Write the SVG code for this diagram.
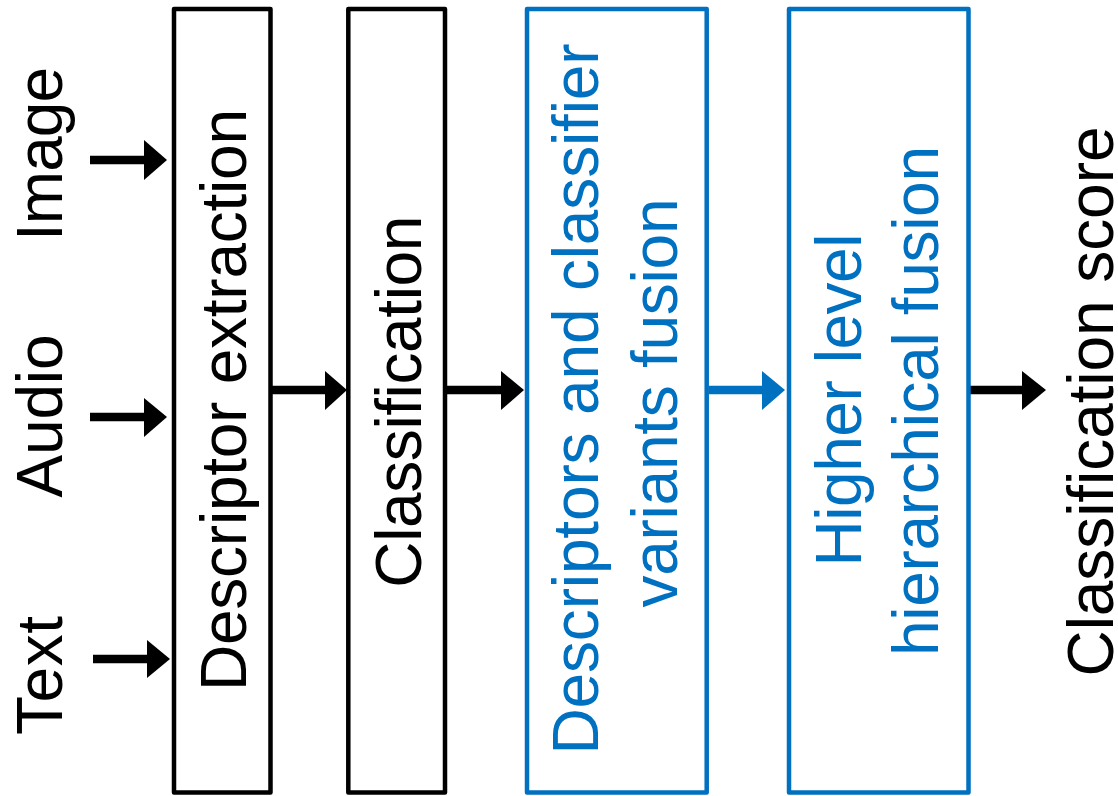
<svg xmlns="http://www.w3.org/2000/svg" width="1118" height="796" viewBox="0 0 1118 796">
<style>
.box{fill:#fff;stroke-width:4.5;stroke-linejoin:round}
.k{stroke:#000}
.b{stroke:#0070C0}
.t{font-family:"Liberation Sans",Arial,sans-serif;font-size:64px;text-anchor:middle}
.tk{fill:#000}
.tb{fill:#0070C0}
.shaft{stroke-width:8.5;fill:none}
</style>
<rect width="1118" height="796" fill="#fff"/>
<g id="connectors">
<line class="shaft k" x1="90" y1="160" x2="146" y2="160"/>
<polygon points="144,140 167,160 144,180" fill="#000"/>
<line class="shaft k" x1="90" y1="417" x2="146" y2="417"/>
<polygon points="144,398 167,417 144,437" fill="#000"/>
<line class="shaft k" x1="93" y1="659" x2="149" y2="659"/>
<polygon points="147,640 170,659 147,678" fill="#000"/>
<line class="shaft k" x1="272" y1="390" x2="327" y2="390"/>
<polygon points="325,371 347,390 325,410" fill="#000"/>
<line class="shaft k" x1="447" y1="390" x2="503" y2="390"/>
<polygon points="501,371 524,390 501,410" fill="#000"/>
<line class="shaft b" x1="709" y1="390" x2="764" y2="390"/>
<polygon points="762,371 785,390 762,410" fill="#0070C0"/>
<line class="shaft k" x1="970" y1="390" x2="1024" y2="390"/>
<polygon points="1022,371 1046,390 1022,410" fill="#000"/>
</g>
<g id="input-image"><text class="t tk" transform="translate(62,154) rotate(-90)" textLength="174">Image</text></g>
<g id="input-audio"><text class="t tk" transform="translate(62,416) rotate(-90)" textLength="163">Audio</text></g>
<g id="input-text"><text class="t tk" transform="translate(62,675.5) rotate(-90)" textLength="119">Text</text></g>
<g id="descriptor-extraction">
<rect class="box k" x="174" y="9" width="96.5" height="783.5"/>
<text class="t tk" transform="translate(246,400) rotate(-90)" textLength="582">Descriptor extraction</text>
</g>
<g id="classification">
<rect class="box k" x="348.3" y="9" width="96.7" height="783.5"/>
<text class="t tk" transform="translate(421,401.7) rotate(-90)" textLength="372">Classification</text>
</g>
<g id="variants-fusion">
<rect class="box b" x="527" y="9" width="179.7" height="783.5"/>
<text class="t tb" transform="translate(598,399) rotate(-90)" textLength="711">Descriptors and classifier</text>
<text class="t tb" transform="translate(677,403) rotate(-90)" textLength="409">variants fusion</text>
</g>
<g id="hierarchical-fusion">
<rect class="box b" x="789" y="9" width="179.5" height="783.5"/>
<text class="t tb" transform="translate(861,400) rotate(-90)" textLength="333">Higher level</text>
<text class="t tb" transform="translate(938,401) rotate(-90)" textLength="510">hierarchical fusion</text>
</g>
<g id="classification-score"><text class="t tk" transform="translate(1113,401.5) rotate(-90)" textLength="550">Classification score</text></g>
</svg>
